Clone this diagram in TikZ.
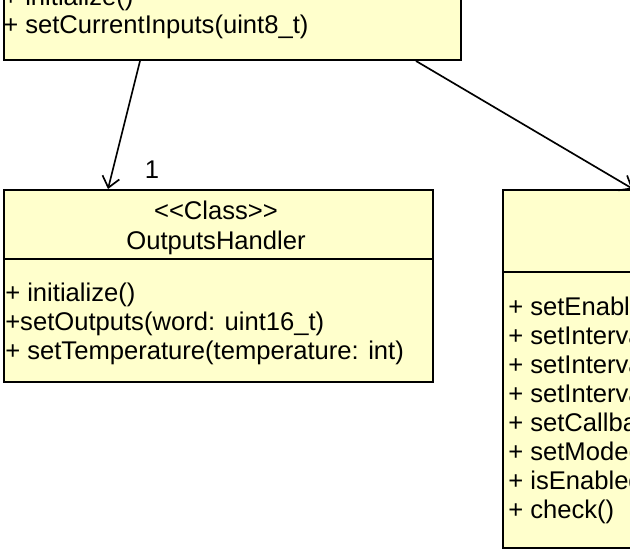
\documentclass[tikz,border=0pt]{standalone}
\usepackage{fontspec}
\setmainfont{Liberation Sans}[Ligatures=TeXOff]
\usetikzlibrary{arrows.meta}
\usetikzlibrary{calc}

\definecolor{classfill}{RGB}{255,255,204}

\tikzset{
  classbox/.style={draw=black, line width=1.5pt, fill=classfill,
    anchor=north west, inner sep=0pt},
  member/.style={anchor=base west, inner sep=0pt,
    font=\fontsize{19.2}{23}\selectfont},
  classtitle/.style={anchor=base, inner sep=0pt,
    font=\fontsize{19.2}{23}\selectfont},
  assoc/.style={line width=1.25pt, -{Straight Barb[length=8pt,width=13pt]}},
}

\begin{document}
\begin{tikzpicture}[x=0.75pt,y=-0.75pt]
        \useasboundingbox (0,0) rectangle (630,552);
        \clip (0,0) rectangle (630,552);

        % controller class, cut off at the top
        \node[classbox, minimum width=457*0.75pt, minimum height=150*0.75pt] (ctrl) at (3,-91) {};
        \node[member] (ctrl-init) at (3,6) {+ initialize()};
        \node[member] (ctrl-inputs) at (3,34) {+ setCurrentInputs(uint8\_t)};

        % outputs handler
        \node[classbox, minimum width=429*0.75pt, minimum height=192*0.75pt] (out) at (3,189) {};
        \draw[line width=1.5pt] (3,259) -- (432,259);
        \node[classtitle] (out-stereo) at (216,219) {<<Class>>};
        \node[classtitle] (out-name) at (216,249) {OutputsHandler};
        \node[member] (out-init) at (5,301) {+ initialize()};
        \node[member] (out-outputs) at (5,330) {+setOutputs(word: uint16\_t)};
        \node[member] (out-temp) at (5,359) {+ setTemperature(temperature: int)};

        % second handler, cut off at the right
        \node[classbox, minimum width=160*0.75pt, minimum height=358*0.75pt] (chk) at (502,189) {};
        \draw[line width=1.5pt] (502,272) -- (662,272);
        \node[member] (chk-enable) at (508,315) {+ setEnabled(enabled: bool)};
        \node[member] (chk-low) at (508,344) {+ setIntervalLow(value: int)};
        \node[member] (chk-high) at (508,373) {+ setIntervalHigh(value: int)};
        \node[member] (chk-step) at (508,402) {+ setIntervalStep(value: int)};
        \node[member] (chk-cb) at (508,431) {+ setCallback(callback)};
        \node[member] (chk-mode) at (508,460) {+ setMode(mode)};
        \node[member] (chk-isen) at (508,489) {+ isEnabled(): bool};
        \node[member] (chk-check) at (508,518) {+ check()};

        % associations
        \draw[assoc] ($(ctrl.south west)+(137,0)$) -- ($(out.north west)+(105,0)$);
        \node[classtitle] (mult) at (152,178) {1};
        \draw[assoc] ($(ctrl.south west)+(413,0)$) -- ($(chk.north west)+(131,0)$);
    \end{tikzpicture}
\end{document}
